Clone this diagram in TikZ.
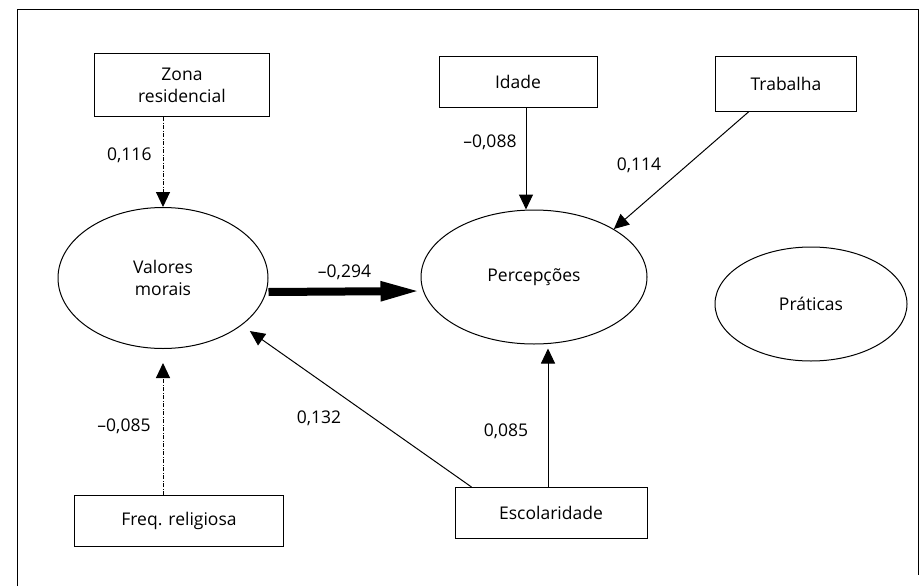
\documentclass[tikz,border=0pt]{standalone}
\usepackage{fontspec}
\setmainfont{Open Sans}
\usetikzlibrary{arrows.meta,shapes.geometric}

\begin{document}
\begin{tikzpicture}[x=1pt,y=-1pt,line width=1pt,
  font=\fontsize{17.5}{22}\selectfont,
  varbox/.style={draw,rectangle,inner sep=0pt,align=center},
  latent/.style={draw,ellipse,inner sep=0pt},
  conn/.style={-{Triangle[length=15pt,width=14pt]}},
  dconn/.style={conn,dash pattern=on 4pt off 1.5pt on 1pt off 1.5pt},
  coef/.style={inner sep=0pt}]
\useasboundingbox (0,0) rectangle (920,586);
\draw (17,586) -- (17,10) -- (918,10) -- (918,575);
% observed variables
\node[varbox,minimum width=175pt,minimum height=63pt] (zona) at (182,85) {Zona\\residencial};
\node[varbox,minimum width=158pt,minimum height=51pt] (idade) at (518,82) {Idade};
\node[varbox,minimum width=141pt,minimum height=54pt] (trabalha) at (786,84) {Trabalha};
\node[varbox,minimum width=209pt,minimum height=51pt] (freq) at (179,521) {Freq. religiosa};
\node[varbox,minimum width=192pt,minimum height=51pt] (escol) at (551,513) {Escolaridade};
% latent variables
\node[latent,minimum width=210pt,minimum height=141pt,align=center] (valores) at (163,278) {Valores\\morais};
\node[latent,minimum width=226pt,minimum height=134pt] (perc) at (534,277) {Percepções};
\node[latent,minimum width=192pt,minimum height=114pt] (praticas) at (811,304) {Práticas};
% paths
\draw[dconn] (valores.north |- zona.south) -- (valores.north) node[coef,pos=0.43,left=11pt] {0,116};
\draw[conn] ([xshift=8pt]idade.south) -- ([xshift=-8pt]perc.north) node[coef,pos=0.34,left=9pt] {–0,088};
\draw[conn] ([xshift=-37pt]trabalha.south) -- (perc.31);
\node[coef] (c114) at (639,165) {0,114};
\draw[-{Triangle[length=40pt,width=18pt]},line width=8pt] ([yshift=-14pt]valores.east) -- ([yshift=-14pt]perc.west)
  node[coef,midway,above=8pt] {–0,294};
\draw[dconn,shorten >=14pt] (valores.south |- freq.north) -- (valores.south);
\node[coef] (c085a) at (124,426) {–0,085};
\draw[conn,shorten >=10pt] ([xshift=17pt]escol.north west) -- (valores.-31);
\node[coef] (c132) at (319,418) {0,132};
\draw[conn,shorten >=4pt] ([xshift=-3pt]escol.north) -- ([xshift=14pt]perc.south);
\node[coef] (c085b) at (506,431) {0,085};
\end{tikzpicture}
\end{document}
